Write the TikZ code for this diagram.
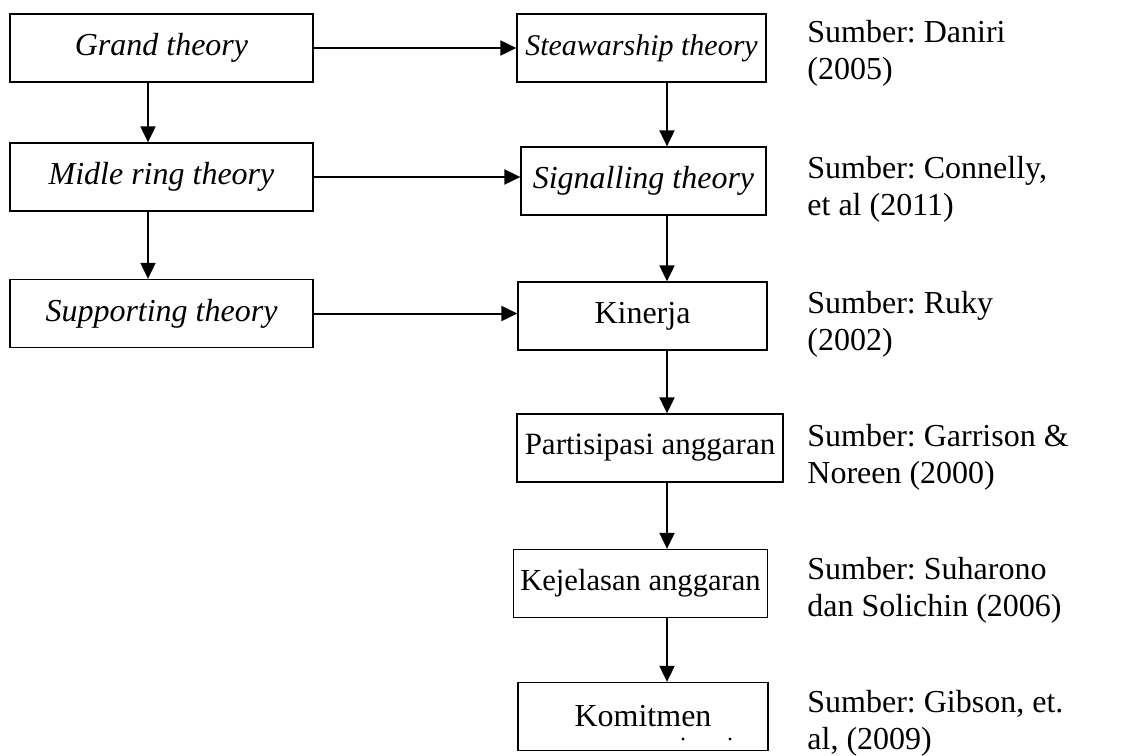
\documentclass[tikz,border=0pt]{standalone}
\usepackage{fontspec}
\setmainfont{Liberation Serif}
\usetikzlibrary{arrows.meta,positioning,calc}
\frenchspacing

\begin{document}
\begin{tikzpicture}[x=0.5pt, y=-0.5pt,
    font=\fontsize{16}{18.5}\selectfont,
    box/.style={draw, line width=0.65pt, minimum height=34pt, inner sep=0pt},
    arr/.style={line width=1pt, -{Triangle[length=8pt,width=7.5pt]}},
    src/.style={anchor=west, align=left, inner sep=0pt}]
      \useasboundingbox (0,0) rectangle (1139,755);
      % left column
      \node[box, minimum width=151.5pt] (grand) at (161.5,48) {\textit{Grand theory}};
      \node[box, minimum width=151.5pt] (midle) at (161.5,177) {\textit{Midle ring theory}};
      \node[box, minimum width=151.5pt] (support) at (161.5,313.5) {\textit{Supporting theory}};
      % right column
      \node[box, minimum width=124.5pt, font=\fontsize{15}{17}\selectfont] (stew) at (641.5,48) {\textit{Steawarship theory}};
      \node[box, minimum width=122.5pt] (signal) at (643.5,181) {\textit{Signalling theory}};
      \node[box, minimum width=124.5pt] (kinerja) at (642.5,316) {Kinerja};
      \node[box, minimum width=133pt, font=\fontsize{15.5}{17}\selectfont] (partisipasi) at (650,448) {Partisipasi anggaran};
      \node[box, minimum width=127pt, font=\fontsize{15.3}{17}\selectfont] (kejelasan) at (640.5,583.5) {Kejelasan anggaran};
      \node[box, minimum width=125pt] (komitmen) at (643,716.5) {Komitmen};
      % stray dots under Komitmen
      \fill (683,739) circle (0.8pt);
      \fill (730,739) circle (0.8pt);
      % sources
      \node[src] (src1) at (807,53) {Sumber: Daniri\\(2005)};
      \node[src] (src2) at (807,189) {Sumber: Connelly,\\et al (2011)};
      \node[src] (src3) at (807,324) {Sumber: Ruky\\(2002)};
      \node[src] (src4) at (807,457) {Sumber: Garrison \&\\Noreen (2000)};
      \node[src] (src5) at (807,590) {Sumber: Suharono\\dan Solichin (2006)};
      \node[src] (src6) at (807,723) {Sumber: Gibson, et.\\al, (2009)};
      % connectors
      \coordinate (lcol) at (148,0);
      \coordinate (rcol) at (667,0);
      \draw[arr] (grand.east) -- (stew.west);
      \draw[arr] (midle.east) -- (midle.east -| signal.west);
      \draw[arr] (support.east) -- (support.east -| kinerja.west);
      \draw[arr] (grand.south -| lcol) -- (midle.north -| lcol);
      \draw[arr] (midle.south -| lcol) -- (support.north -| lcol);
      \draw[arr] (stew.south -| rcol) -- (signal.north -| rcol);
      \draw[arr] (signal.south -| rcol) -- (kinerja.north -| rcol);
      \draw[arr] (kinerja.south -| rcol) -- (partisipasi.north -| rcol);
      \draw[arr] (partisipasi.south -| rcol) -- (kejelasan.north -| rcol);
      \draw[arr] (kejelasan.south -| rcol) -- (komitmen.north -| rcol);
    \end{tikzpicture}
\end{document}
